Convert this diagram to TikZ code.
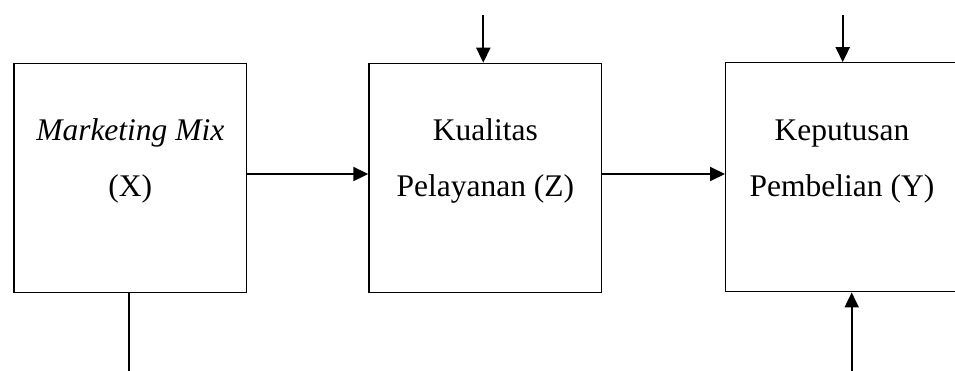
\documentclass[tikz,border=0pt]{standalone}
\usepackage{fontspec}
\setmainfont{Liberation Serif}
\usetikzlibrary{arrows.meta}
\begin{document}
\begin{tikzpicture}[x=1pt,y=-1pt,
  box/.style={draw,line width=1.3pt,minimum width=232.7pt,minimum height=229pt,inner sep=0pt},
  lbl/.style={anchor=base,inner sep=0pt,font=\fontsize{31.5}{36}\selectfont},
  conn/.style={line width=2pt},
  arr/.style={conn,-{Triangle[length=15pt,width=14pt]}}]
\useasboundingbox (0,0) rectangle (955,370);
\node[box] (x) at (130.3,177.8) {};
\node[box] (z) at (485.3,177.8) {};
\node[box] (y) at (842,177.3) {};
\node[lbl] (xa) at (130.3,140.7) {\itshape Marketing Mix};
\node[lbl] (xb) at (130.3,196.7) {(X)};
\node[lbl] (za) at (485.3,140.7) {Kualitas};
\node[lbl] (zb) at (485.3,196.7) {Pelayanan (Z)};
\node[lbl] (ya) at (842,140.7) {Keputusan};
\node[lbl] (yb) at (842,196.7) {Pembelian (Y)};
\coordinate (row) at (0,174);
\coordinate (tz) at (483.3,15);
\coordinate (ty) at (842.7,15);
\coordinate (by) at (851.7,372);
\coordinate (bx) at (129,372);
\draw[arr] (x.east |- row) -- (z.west |- row);
\draw[arr] (z.east |- row) -- (y.west |- row);
\draw[arr] (tz) -- (tz |- z.north);
\draw[arr] (ty) -- (ty |- y.north);
\draw[arr] (by) -- (by |- y.south);
\draw[conn] (bx |- x.south) -- (bx);
\end{tikzpicture}
\end{document}
